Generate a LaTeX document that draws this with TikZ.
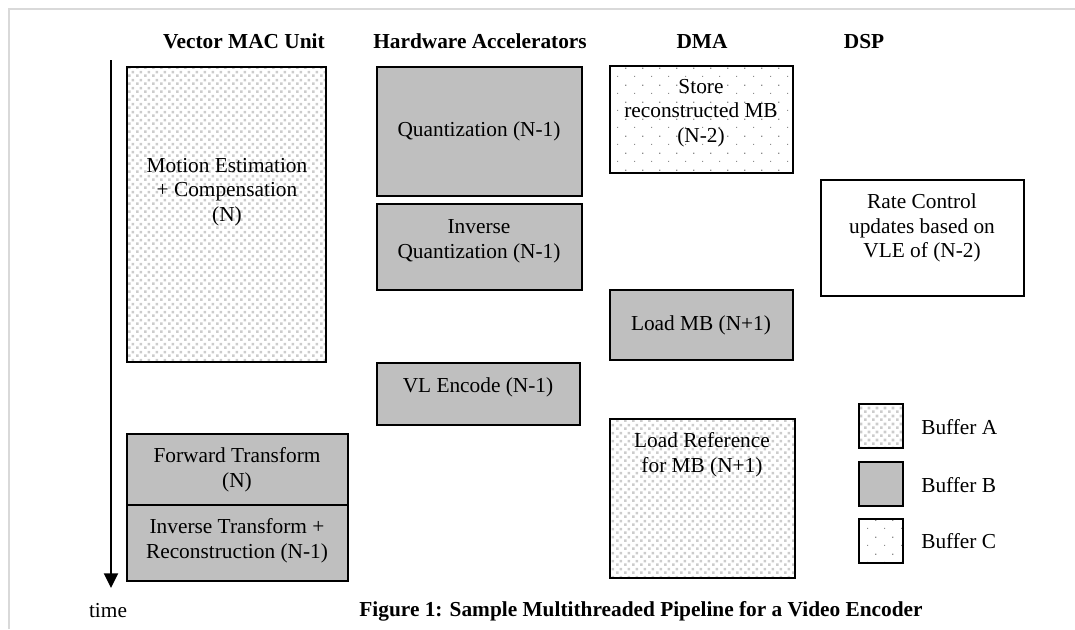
\documentclass[tikz,border=0pt]{standalone}
\usepackage{fontspec}
\setmainfont{Liberation Serif}
\usetikzlibrary{arrows.meta,patterns}

% buffer fills
\pgfdeclarepatternformonly{bufferA}{\pgfqpoint{0pt}{0pt}}{\pgfqpoint{6pt}{6pt}}{\pgfqpoint{6pt}{6pt}}{%
  \pgfpathrectangle{\pgfqpoint{0pt}{0pt}}{\pgfqpoint{2.2pt}{2.2pt}}%
  \pgfpathrectangle{\pgfqpoint{3pt}{3pt}}{\pgfqpoint{2.2pt}{2.2pt}}%
  \pgfusepath{fill}}
\pgfdeclarepatternformonly{bufferC}{\pgfqpoint{0pt}{0pt}}{\pgfqpoint{12.5pt}{12.5pt}}{\pgfqpoint{12.5pt}{12.5pt}}{%
  \pgfpathrectangle{\pgfqpoint{0pt}{0pt}}{\pgfqpoint{0.9pt}{0.9pt}}%
  \pgfpathrectangle{\pgfqpoint{6.25pt}{6.25pt}}{\pgfqpoint{0.9pt}{0.9pt}}%
  \pgfusepath{fill}}

\begin{document}
\begin{tikzpicture}[x=0.75pt,y=-0.75pt,
  box/.style={draw=black,line width=1.4pt},
  bufa/.style={box,pattern=bufferA,pattern color=black!20},
  bufb/.style={box,fill=gray!50},
  bufc/.style={box,pattern=bufferC,pattern color=black!45},
  plain/.style={box,fill=white},
  lbl/.style={font=\fontsize{16}{18.5}\selectfont,align=center,inner sep=0pt},
  head/.style={font=\fontsize{16}{18.5}\selectfont\bfseries,inner sep=0pt}]
\useasboundingbox (0,0) rectangle (1075,629);
\draw[black!15,line width=1.5pt] (9,629) -- (9,9) -- (1075,9);
% column heads
\node[head,anchor=base] (hmac) at (244,48) {Vector MAC Unit};
\node[head,anchor=base] (hacc) at (480,48) {Hardware Accelerators};
\node[head,anchor=base] (hdma) at (702,48) {DMA};
\node[head,anchor=base] (hdsp) at (864,48) {DSP};
% time axis
\coordinate (ttop) at (111,60);
\coordinate (tbot) at (111,588);
\draw[line width=1.4pt,-{Triangle[width=10.5pt,length=11pt]}] (ttop) -- (tbot);
\node[lbl] (time) at (108,611) {time};
% Vector MAC Unit
\draw[bufa] (127,67) rectangle (326,362);
\node[lbl] (me) at (227,192) {Motion Estimation\\+ Compensation\\(N)};
\draw[bufb] (127,434) rectangle (348,505);
\node[lbl] (fwd) at (237,470) {Forward Transform\\(N)};
\draw[bufb] (127,505) rectangle (348,581);
\node[lbl] (inv) at (237,541) {Inverse Transform +\\Reconstruction (N-1)};
% Hardware Accelerators
\draw[bufb] (377,67) rectangle (582,196);
\node[lbl] (q) at (479,131) {Quantization (N-1)};
\draw[bufb] (377,204) rectangle (582,290);
\node[lbl] (iq) at (479,241) {Inverse\\Quantization (N-1)};
\draw[bufb] (377,363) rectangle (580,425);
\node[lbl] (vle) at (478,387) {VL Encode (N-1)};
% DMA
\draw[bufc] (610,66) rectangle (793,173);
\node[lbl] (store) at (701,113) {Store\\reconstructed MB\\(N-2)};
\draw[bufb] (610,290) rectangle (793,360);
\node[lbl] (ldmb) at (701,325) {Load MB (N+1)};
\draw[bufa] (610,419) rectangle (795,578);
\node[lbl] (ldref) at (702,455) {Load Reference\\for MB (N+1)};
% DSP
\draw[plain] (821,180) rectangle (1024,296);
\node[lbl] (rc) at (922,228) {Rate Control\\updates based on\\VLE of (N-2)};
% legend
\draw[bufa] (859,404) rectangle (903,448);
\node[lbl,anchor=west] (la) at (921,427) {Buffer A};
\draw[bufb] (859,462) rectangle (903,506);
\node[lbl,anchor=west] (lb) at (921,485) {Buffer B};
\draw[bufc] (859,519) rectangle (903,563);
\node[lbl,anchor=west] (lc) at (921,541) {Buffer C};
% caption
\node[head] (cap) at (641,611) {Figure 1: Sample Multithreaded Pipeline for a Video Encoder};
\end{tikzpicture}
\end{document}
